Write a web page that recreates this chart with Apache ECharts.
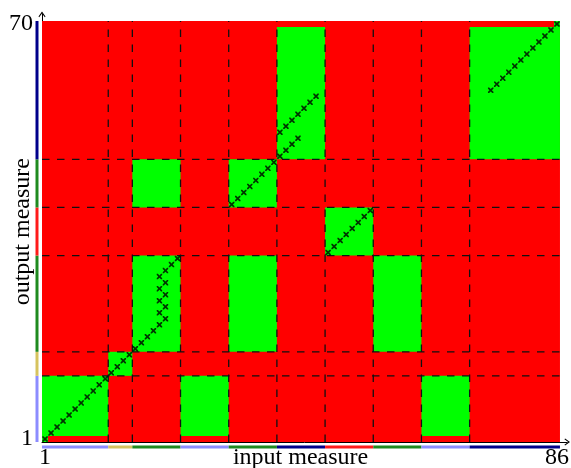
<!DOCTYPE html>
<html>
<head>
<meta charset="utf-8">
<script src="https://cdn.jsdelivr.net/npm/echarts@6/dist/echarts.min.js"></script>
<style>
  html, body { margin: 0; padding: 0; background: #fff; }
  #chart { width: 571px; height: 468px; }
</style>
</head>
<body>
<div id="chart"></div>
<script>
// Measure groups: last index of each group and the kind of measure it holds
const inputGroupEnds = [11, 15, 23, 31, 39, 47, 55, 63, 71, 86];
const inputGroupKinds = ['lb', 'tan', 'grn', 'lb', 'grn', 'navy', 'red', 'grn', 'lb', 'navy'];
const outputGroupEnds = [11, 15, 31, 39, 47, 70];
const outputGroupKinds = ['lb', 'tan', 'grn', 'red', 'grn', 'navy'];

// Compatible regions: [firstInput, lastInput, firstOutput, lastOutput]
const compatibleBlocks = [
  [1, 1, 1, 1], [1, 11, 2, 11], [24, 31, 2, 11], [64, 71, 2, 11],
  [12, 15, 12, 15],
  [16, 23, 16, 31], [32, 39, 16, 31], [56, 63, 16, 31],
  [48, 55, 32, 39],
  [16, 23, 40, 47], [32, 39, 40, 47],
  [40, 47, 48, 69], [72, 86, 48, 69], [86, 86, 70, 70]
];

// Input measure chosen for each output measure 1..70
const matchedInput = [
  1, 2, 3, 4, 5, 6, 7, 8, 9, 10,
  11, 12, 13, 14, 15, 16, 17, 18, 19, 20,
  21, 20, 21, 20, 21, 20, 21, 20, 21, 22,
  23, 48, 49, 50, 51, 52, 53, 54, 55, 32,
  33, 34, 35, 36, 37, 38, 39, 40, 41, 42,
  43, 40, 41, 42, 43, 44, 45, 46, 75, 76,
  77, 78, 79, 80, 81, 82, 83, 84, 85, 86
];

const inputCount = 86;
const outputCount = 70;
const xTickLabels = [1, 86];
const yTickLabels = [1, 70];

const kindColors = {
  lb: '#8c8cff', tan: '#d6c35e', grn: '#1f8a1f', navy: '#00008b', red: '#ff1a1a'
};
const BAD = '#ff0000';
const GOOD = '#00ff00';
const FONT = "'Liberation Serif', 'DejaVu Serif', serif";

// cells: whole matrix first, compatible blocks on top
const cellRects = [[1, inputCount, 1, outputCount]].concat(compatibleBlocks);

// group bars along both axes: [first, last, kind, axis(0 = input, 1 = output)]
const barRects = [];
let prev = 0;
inputGroupEnds.forEach((e, i) => { barRects.push([prev + 1, e, inputGroupKinds[i], 0]); prev = e; });
prev = 0;
outputGroupEnds.forEach((e, i) => { barRects.push([prev + 1, e, outputGroupKinds[i], 1]); prev = e; });

// dashed group separators: [position, orientation(0 = vertical, 1 = horizontal)]
const separators = [];
inputGroupEnds.slice(0, -1).forEach(e => separators.push([e + 0.5, 0]));
outputGroupEnds.slice(0, -1).forEach(e => separators.push([e + 0.5, 1]));

const crossData = matchedInput.map((x, i) => [x, i + 1]);

const chart = echarts.init(document.getElementById('chart'), null, { renderer: 'canvas' });

const arrow = 'path://M5,0 L10,7 L9,8 L5,2.6 L1,8 L0,7 Z';

chart.setOption({
  animation: false,
  grid: { left: 42, right: 3.8, top: 14.4, bottom: 26, outerBoundsMode: 'none', containLabel: false },
  xAxis: {
    type: 'value', min: 0.5, max: 87.7,
    name: 'input measure', nameLocation: 'middle', nameGap: 4, nameMoveOverlap: false,
    nameTextStyle: { fontFamily: FONT, fontSize: 24, color: '#000', verticalAlign: 'top', padding: [0, 8, 0, 0] },
    axisLine: { show: true, lineStyle: { color: '#000', width: 1 }, symbol: ['none', arrow], symbolSize: [7, 7] },
    axisTick: { show: false },
    splitLine: { show: false },
    axisLabel: {
      customValues: xTickLabels, margin: 4, hideOverlap: false,
      fontFamily: FONT, fontSize: 24, color: '#000'
    }
  },
  yAxis: {
    type: 'value', min: 0.5, max: 71.6,
    name: 'output measure', nameLocation: 'middle', nameGap: 7, nameMoveOverlap: false,
    nameTextStyle: { fontFamily: FONT, fontSize: 24, color: '#000', padding: [0, 7, 0, 0] },
    axisLine: { show: true, lineStyle: { color: '#000', width: 1 }, symbol: ['none', arrow], symbolSize: [7, 7] },
    axisTick: { show: false },
    splitLine: { show: false },
    axisLabel: {
      customValues: yTickLabels, margin: 9, hideOverlap: false,
      fontFamily: FONT, fontSize: 24, color: '#000', padding: [4, 0, 0, 0]
    }
  },
  series: [
    {
      type: 'custom',
      data: cellRects,
      encode: { x: [0, 1], y: [2, 3] },
      renderItem: (params, api) => {
        const r = cellRects[params.dataIndex];
        const p0 = api.coord([r[0] - 0.5, r[3] + 0.5]);
        const p1 = api.coord([r[1] + 0.5, r[2] - 0.5]);
        return {
          type: 'rect',
          shape: { x: p0[0], y: p0[1], width: p1[0] - p0[0], height: p1[1] - p0[1] },
          style: { fill: params.dataIndex === 0 ? BAD : GOOD }
        };
      }
    },
    {
      type: 'custom',
      data: separators.map(s => [s[0]]),
      renderItem: (params, api) => {
        const s = separators[params.dataIndex];
        const a = s[1] === 0 ? api.coord([s[0], 0.5]) : api.coord([0.5, s[0]]);
        const b = s[1] === 0 ? api.coord([s[0], outputCount + 0.5]) : api.coord([inputCount + 0.5, s[0]]);
        return {
          type: 'line',
          shape: { x1: a[0], y1: a[1], x2: b[0], y2: b[1] },
          style: { stroke: '#111', lineWidth: 1.3, lineDash: [7.5, 7.5] }
        };
      },
      z: 3
    },
    {
      type: 'scatter',
      data: crossData,
      symbol: 'path://M0,0 L2.2,0 L5,2.8 L7.8,0 L10,0 L10,2.2 L7.2,5 L10,7.8 L10,10 L7.8,10 L5,7.2 L2.2,10 L0,10 L0,7.8 L2.8,5 L0,2.2 Z',
      symbolSize: 5.5,
      itemStyle: { color: '#000' },
      z: 4
    },
    {
      type: 'custom',
      data: barRects.map(b => [b[0], b[1]]),
      clip: false,
      renderItem: (params, api) => {
        const r = barRects[params.dataIndex];
        const s = r[0] - 0.5, e = r[1] + 0.5;
        const color = kindColors[r[2]];
        if (r[3] === 0) {
          const a = api.coord([s, 0.5]);
          const b = api.coord([e, 0.5]);
          return { type: 'rect', shape: { x: a[0], y: a[1] + 3.5, width: b[0] - a[0], height: 3 }, style: { fill: color } };
        }
        const a = api.coord([0.5, e]);
        const b = api.coord([0.5, s]);
        return { type: 'rect', shape: { x: a[0] - 6.5, y: a[1], width: 3, height: b[1] - a[1] }, style: { fill: color } };
      },
      z: 5
    }
  ]
});
</script>
</body>
</html>
